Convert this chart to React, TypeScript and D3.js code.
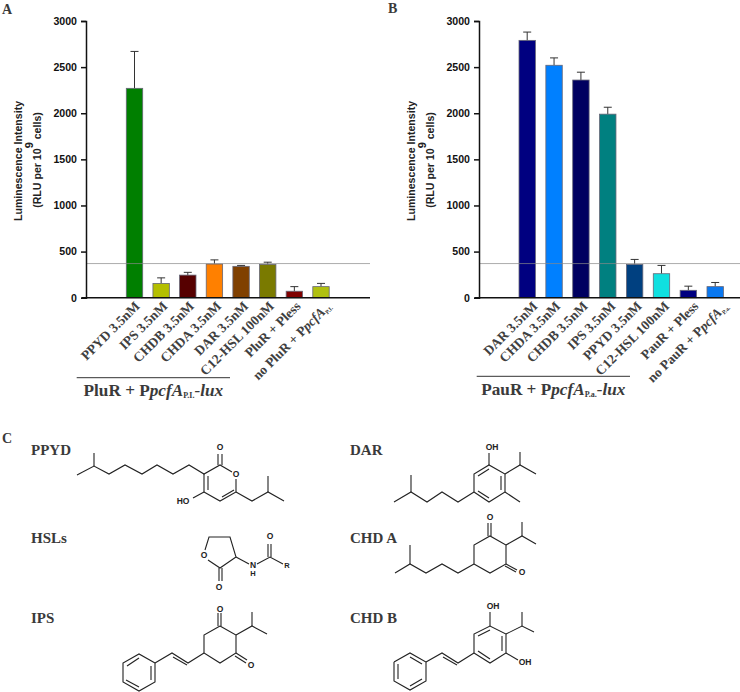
import { useEffect, useRef } from 'react'
import * as d3 from 'd3'

const yTicks = [0, 500, 1000, 1500, 2000, 2500, 3000]
const thresholdValue = 370

const categoriesA = ['PPYD 3.5nM', 'IPS 3.5nM', 'CHDB 3.5nM', 'CHDA 3.5nM', 'DAR 3.5nM', 'C12-HSL 100nM', 'PluR + Pless', 'no PluR + P']
const valuesA = [2270, 155, 245, 365, 340, 360, 70, 120]
const errorTopsA = [2670, 215, 275, 410, 350, 385, 120, 155]
const colorsA = ['#007f00', '#b4bf00', '#560000', '#ff8000', '#804000', '#7a7a00', '#7f0000', '#b0c010']

const categoriesB = ['DAR 3.5nM', 'CHDA 3.5nM', 'CHDB 3.5nM', 'IPS 3.5nM', 'PPYD 3.5nM', 'C12-HSL 100nM', 'PauR + Pless', 'no PauR + P']
const valuesB = [2790, 2520, 2360, 1990, 360, 260, 80, 120]
const errorTopsB = [2880, 2600, 2445, 2065, 415, 350, 125, 165]
const colorsB = ['#000080', '#0080ff', '#000060', '#008080', '#004080', '#10e0e0', '#000080', '#0a78f0']

// how far each rotated label ends to the right of its bar centre
const labelShiftA = [6, 7, 7, 7.5, 8, 7, 7, 11]
const labelShiftB = [11, 7, 7.5, 8.5, 8, 8.5, 11, 14]

// Structure drawings, in px of the page. [x1, y1, x2, y2, ...] polylines
const singleBonds: number[][] = [
  // PPYD
  [77, 475, 94, 466, 109, 474, 125, 465, 142, 474, 157, 465, 173, 474, 189, 465, 204, 474, 220, 465, 232, 472],
  [94, 466, 94, 453],
  [204, 474, 204, 492],
  [236, 479, 236, 492, 220, 501, 204, 492],
  [204, 492, 193, 498],
  [236, 492, 252, 501, 268, 492, 284, 501],
  [268, 492, 268, 476],
  // HSL
  [205, 550, 209, 537, 230, 537, 236, 557, 220, 568, 208, 560],
  [236, 557, 249, 564],
  [257, 564, 270, 557, 283, 564],
  // IPS
  [220, 626, 236, 635, 236, 653, 220, 663, 204, 653, 204, 635, 220, 626],
  [236, 635, 252, 626, 267, 634],
  [252, 626, 252, 612],
  [204, 653, 188, 663, 172, 653, 155, 663],
  [155, 663, 155, 682, 139, 691, 123, 682, 123, 663, 139, 654, 155, 663],
  // DAR
  [394, 502, 411, 492, 427, 502, 442, 492, 458, 502, 474, 492],
  [411, 492, 411, 475],
  [474, 492, 474, 474, 489, 465, 505, 474, 505, 492, 489, 502, 474, 492],
  [489, 465, 489, 453],
  [505, 474, 520, 465, 536, 474],
  [520, 465, 520, 452],
  [505, 492, 520, 502],
  // CHD A
  [395, 573, 410, 564, 426, 573, 442, 564, 458, 573, 474, 564],
  [410, 564, 410, 545],
  [474, 564, 474, 545, 490, 536, 506, 545, 506, 564, 490, 573, 474, 564],
  [506, 545, 522, 536, 536, 544],
  [522, 536, 522, 522],
  // CHD B
  [394, 662, 394, 681, 410, 690, 426, 681, 426, 662, 410, 653, 394, 662],
  [426, 662, 442, 653, 458, 663, 474, 653],
  [474, 653, 474, 634, 490, 626, 506, 634, 506, 653, 490, 663, 474, 653],
  [490, 626, 490, 612],
  [506, 653, 518, 660],
  [506, 634, 522, 626, 534, 632],
  [522, 626, 522, 612],
]

// second stroke of each double bond
const doubleStrokes: number[][] = [
  // PPYD
  [208, 476, 208, 490],
  [222, 497, 234, 490],
  [218, 465, 218, 454], [222, 465, 222, 454],
  // HSL
  [268, 557, 268, 544], [271, 557, 271, 544],
  [219, 568, 219, 581], [222, 568, 222, 581],
  // IPS
  [218, 626, 218, 613], [221, 626, 221, 613],
  [236, 653, 247, 660], [235, 656, 246, 663],
  [173, 657, 187, 665],
  [151, 666, 151, 680], [139, 687, 126, 680], [127, 666, 139, 658],
  // DAR
  [478, 476, 489, 469], [501, 476, 501, 490], [478, 491, 489, 498],
  // CHD A
  [488, 536, 488, 523], [491, 536, 491, 523],
  [506, 564, 517, 570], [505, 566, 516, 572],
  // CHD B
  [398, 664, 398, 679], [410, 686, 422, 679], [410, 657, 422, 664],
  [443, 657, 457, 665],
  [478, 636, 490, 630], [502, 636, 502, 651], [478, 651, 490, 659],
]

const atomLabels: [string, number, number][] = [
  ['O', 220, 448], ['O', 236, 475], ['HO', 183, 502],
  ['O', 270, 537], ['O', 204, 556], ['O', 219, 588], ['N', 253, 566], ['H', 253, 574], ['R', 287, 566],
  ['O', 220, 610], ['O', 251, 666],
  ['OH', 492, 448],
  ['O', 490, 518], ['O', 522, 573],
  ['OH', 493, 607], ['OH', 525, 663],
]

const compoundLabels: [string, number, number][] = [
  ['PPYD', 31, 455], ['HSLs', 31, 543], ['IPS', 31, 623],
  ['DAR', 350, 455], ['CHD A', 350, 543], ['CHD B', 350, 623],
]

const GRAY = '#3a3a3a'

function drawPanel(svg: any, opts: any) {
  const { axisX, first, last, right, categories, values, tops, colors, shifts } = opts
  const y = d3.scaleLinear().domain([0, 3000]).range([297.7, 21])
  const x = d3.scalePoint().domain(categories.map((_: string, i: number) => String(i))).range([first, last])
  const barW = 16.4

  const g = svg.append('g')

  values.forEach((v: number, i: number) => {
    const cx = x(String(i)) as number
    g.append('line').attr('x1', cx).attr('x2', cx).attr('y1', y(tops[i])).attr('y2', y(v))
      .attr('stroke', '#333').attr('stroke-width', 1)
    g.append('line').attr('x1', cx - 4).attr('x2', cx + 4).attr('y1', y(tops[i])).attr('y2', y(tops[i]))
      .attr('stroke', '#333').attr('stroke-width', 1)
    g.append('rect').attr('x', cx - barW / 2).attr('y', y(v))
      .attr('width', barW).attr('height', y(0) - y(v))
      .attr('fill', colors[i]).attr('stroke', '#667').attr('stroke-width', 0.8)
  })

  // threshold line sits over the bars
  g.append('line').attr('x1', axisX).attr('x2', right)
    .attr('y1', y(thresholdValue)).attr('y2', y(thresholdValue))
    .attr('stroke', '#888').attr('stroke-opacity', 0.7).attr('stroke-width', 1)

  g.append('line').attr('x1', axisX - 4).attr('x2', right).attr('y1', y(0)).attr('y2', y(0))
    .attr('stroke', '#111').attr('stroke-width', 1.5)

  g.append('g').attr('transform', `translate(${axisX},0)`)
    .call(d3.axisLeft(y).tickValues(yTicks).tickSize(5).tickPadding(4).tickFormat(d3.format('d') as any))
    .call((ax: any) => {
      ax.select('.domain').attr('stroke', '#111').attr('stroke-width', 1.5)
      ax.selectAll('line').attr('stroke', '#111').attr('stroke-width', 1.5)
      ax.selectAll('text').attr('fill', '#111').attr('font-size', 10.6).attr('font-weight', 'bold')
        .attr('font-family', '"Liberation Sans", Arial, sans-serif')
    })

  // y title
  const titleX = axisX - 64
  const sans = '"Liberation Sans", Arial, sans-serif'
  g.append('text').attr('transform', `translate(${titleX},161) rotate(-90)`)
    .attr('text-anchor', 'middle').attr('font-family', sans).attr('font-weight', 'bold')
    .attr('font-size', 10.6).attr('fill', '#222').text('Luminescence Intensity')
  const sub = g.append('text').attr('transform', `translate(${titleX + 19},160) rotate(-90)`)
    .attr('text-anchor', 'middle').attr('font-family', sans).attr('font-weight', 'bold')
    .attr('font-size', 10.6).attr('fill', '#222')
  sub.append('tspan').text('(RLU per 10')
  sub.append('tspan').attr('dy', -8).attr('font-size', 11).text('9')
  sub.append('tspan').attr('dy', 8).text(' cells)')

  // rotated category labels
  categories.forEach((c: string, i: number) => {
    const cx = (x(String(i)) as number) + shifts[i]
    const t = g.append('text').attr('transform', `translate(${cx},307) rotate(-45)`)
      .attr('text-anchor', 'end').attr('font-family', '"Liberation Serif", serif')
      .attr('font-weight', 'bold').attr('font-size', 13.5).attr('fill', '#404040')
    t.append('tspan').text(c)
    if (c.startsWith('no ')) {
      t.append('tspan').attr('font-style', 'italic').text('pcfA')
      t.append('tspan').attr('font-size', 6).attr('dy', 2).text(opts.strain)
    }
  })

  // group bracket + caption
  g.append('line').attr('x1', opts.bracket[0]).attr('x2', opts.bracket[1])
    .attr('y1', opts.bracketY).attr('y2', opts.bracketY).attr('stroke', '#333').attr('stroke-width', 1)
  const cap = g.append('text').attr('x', (opts.bracket[0] + opts.bracket[1]) / 2).attr('y', opts.bracketY + 18.5)
    .attr('text-anchor', 'middle').attr('font-family', '"Liberation Serif", serif')
    .attr('font-weight', 'bold').attr('font-size', 17.2).attr('fill', GRAY)
  cap.append('tspan').text(`${opts.receptor} + P`)
  cap.append('tspan').attr('font-style', 'italic').text('pcfA')
  cap.append('tspan').attr('font-size', 8).attr('dy', 2).text(opts.strain)
  cap.append('tspan').attr('font-style', 'italic').attr('dy', -2).text('-lux')
}

export default function App() {
  const svgRef = useRef<SVGSVGElement>(null)

  useEffect(() => {
    if (!svgRef.current) return
    const svg = d3.select(svgRef.current)
    svg.selectAll('*').remove()

    svg.append('rect').attr('width', 740).attr('height', 692).attr('fill', '#fff')

    drawPanel(svg, {
      axisX: 86, first: 134.5, last: 321, right: 370,
      categories: categoriesA, values: valuesA, tops: errorTopsA, colors: colorsA, shifts: labelShiftA,
      receptor: 'PluR', strain: 'P.I.', bracket: [76.7, 230], bracketY: 377.7,
    })
    drawPanel(svg, {
      axisX: 479, first: 527.2, last: 715.2, right: 740,
      categories: categoriesB, values: valuesB, tops: errorTopsB, colors: colorsB, shifts: labelShiftB,
      receptor: 'PauR', strain: 'P.a.', bracket: [476.7, 630], bracketY: 376.3,
    })

    const serif = '"Liberation Serif", serif'
    ;([['A', 2, 14], ['B', 388, 13], ['C', 2, 443]] as [string, number, number][]).forEach(([s, x, y]) => {
      svg.append('text').attr('x', x).attr('y', y).attr('font-family', serif)
        .attr('font-weight', 'bold').attr('font-size', 14).attr('fill', GRAY).text(s)
    })

    compoundLabels.forEach(([s, x, y]) => {
      svg.append('text').attr('x', x).attr('y', y).attr('font-family', serif)
        .attr('font-weight', 'bold').attr('font-size', 15).attr('fill', GRAY).text(s)
    })

    const bonds = svg.append('g').attr('fill', 'none').attr('stroke', '#222').attr('stroke-width', 1.1)
    const toPath = (flat: number[]) => {
      const pts: [number, number][] = []
      for (let i = 0; i < flat.length; i += 2) pts.push([flat[i], flat[i + 1]])
      return d3.line()(pts)
    }
    ;[...singleBonds, ...doubleStrokes].forEach(b => bonds.append('path').attr('d', toPath(b)))

    atomLabels.forEach(([s, x, y]) => {
      svg.append('text').attr('x', x).attr('y', y).attr('text-anchor', 'middle')
        .attr('dominant-baseline', 'middle').attr('font-family', '"Liberation Sans", Arial, sans-serif')
        .attr('font-weight', 'bold').attr('font-size', s === 'R' || s === 'H' ? 7.5 : 8.5).attr('fill', '#222').text(s)
    })
  }, [])

  return <svg ref={svgRef} width={740} height={692} style={{ position: 'absolute', left: 0, top: 0 }} />
}
